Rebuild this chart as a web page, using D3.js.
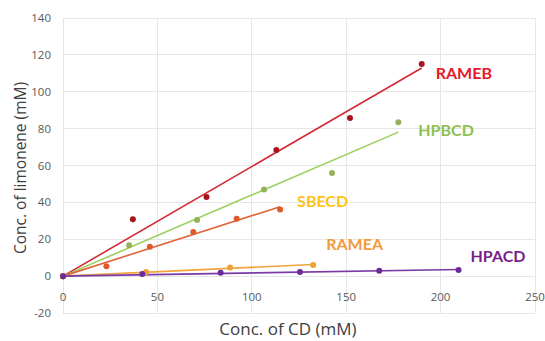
<!DOCTYPE html>
<html><head><meta charset="utf-8">
<script src="https://cdn.jsdelivr.net/npm/d3@7"></script>
<style>body{margin:0;background:#fff}svg{display:block}</style>
</head><body>
<svg id="c" width="545" height="341"></svg>
<script>
const seriesNames = ["RAMEB","HPBCD","SBECD","RAMEA","HPACD"];
const ramebX = [0,37,76,113,152,190];
const ramebY = [0,30.9,42.9,68.4,85.7,115];
const hpbcdX = [0,35,71,106.5,142.5,177.6];
const hpbcdY = [0,16.8,30.4,47,56,83.4];
const sbecdX = [0,23,46,69,92,115];
const sbecdY = [0,5.4,15.9,23.9,31.1,36.2];
const rameaX = [0,44,88.5,132.5];
const rameaY = [0,2.2,4.7,6];
const hpacdX = [0,42,83.5,125.5,167.5,209.5];
const hpacdY = [0,1.1,1.8,2.3,2.9,3.3];
const xTicks = [0,50,100,150,200,250];
const yTicks = [-20,0,20,40,60,80,100,120,140];
const lineColors = ["#d42a35","#9ccf5e","#e0643a","#f1a33d","#7a3aa6"];
const pointColors = ["#a8141e","#93b25a","#de5a2c","#f0a032","#6a2c98"];
const labelColors = ["#e3182b","#8fbf4f","#ffc21a","#f29a3c","#7a1f8a"];

const svg = d3.select("#c");
const x = d3.scaleLinear().domain([0,250]).range([63,535]);
const y = d3.scaleLinear().domain([-20,140]).range([313,18]);

// gridlines
svg.append("g").selectAll("line").data(yTicks).join("line")
  .attr("x1",x(0)).attr("x2",x(250)).attr("y1",d=>y(d)).attr("y2",d=>y(d))
  .attr("stroke","#e6e6e6").attr("stroke-width",1).attr("shape-rendering","crispEdges");
svg.append("g").selectAll("line").data(xTicks).join("line")
  .attr("y1",y(-20)).attr("y2",y(140)).attr("x1",d=>x(d)).attr("x2",d=>x(d))
  .attr("stroke","#e6e6e6").attr("stroke-width",1).attr("shape-rendering","crispEdges");

// tick labels
svg.append("g").selectAll("text").data(yTicks).join("text")
  .attr("x",51).attr("y",d=>y(d)).attr("dy","0.35em").attr("text-anchor","end")
  .attr("font-family","Open Sans, sans-serif").attr("font-size",11.5).attr("fill","#595959")
  .text(d=>d);
svg.append("g").selectAll("text").data(xTicks).join("text")
  .attr("x",d=>x(d)).attr("y",y(0)+25).attr("text-anchor","middle")
  .attr("font-family","Open Sans, sans-serif").attr("font-size",11.5).attr("fill","#595959")
  .text(d=>d);

// axis titles
svg.append("text").attr("x",288).attr("y",335).attr("text-anchor","middle")
  .attr("font-family","Open Sans, sans-serif").attr("font-size",17).attr("fill","#404040")
  .text("Conc. of CD (mM)");
svg.append("text").attr("transform","translate(26,168) rotate(-90)").attr("text-anchor","middle")
  .attr("font-family","Open Sans, sans-serif").attr("font-size",15.5).attr("fill","#404040")
  .text("Conc. of limonene (mM)");

const series = [[ramebX,ramebY],[hpbcdX,hpbcdY],[sbecdX,sbecdY],[rameaX,rameaY],[hpacdX,hpacdY]];
// linear trendline through the origin
function slope(xs,ys){
  let sxy=0,sxx=0;
  for(let i=0;i<xs.length;i++){sxy+=xs[i]*ys[i];sxx+=xs[i]*xs[i];}
  return sxy/sxx;
}
const line = d3.line().x(d=>x(d[0])).y(d=>y(d[1]));
series.forEach(([xs,ys],i)=>{
  const m=slope(xs,ys);
  const x0=d3.min(xs), x1=d3.max(xs);
  svg.append("path").attr("d",line([[x0,m*x0],[x1,m*x1]]))
    .attr("stroke",lineColors[i]).attr("stroke-width",1.6).attr("fill","none");
});
series.forEach(([xs,ys],i)=>{
  svg.append("g").selectAll("circle").data(xs.map((v,k)=>[v,ys[k]])).join("circle")
    .attr("cx",d=>x(d[0])).attr("cy",d=>y(d[1])).attr("r",3)
    .attr("fill",pointColors[i]);
});

// series labels
const labelAnchor = [[190,115],[177.6,83.4],[115,36.2],[132.5,6],[209.5,3.3]];
const labelOffset = [[14,9],[20,8],[17,-8],[13,-21],[12,-14]];
svg.append("g").selectAll("text").data(seriesNames).join("text")
  .attr("x",(d,i)=>x(labelAnchor[i][0])+labelOffset[i][0])
  .attr("y",(d,i)=>y(labelAnchor[i][1])+labelOffset[i][1])
  .attr("dy","0.35em")
  .attr("font-family","Lato, sans-serif").attr("font-weight","bold").attr("font-size",16)
  .attr("fill",(d,i)=>labelColors[i])
  .text(d=>d);
</script>
</body></html>
